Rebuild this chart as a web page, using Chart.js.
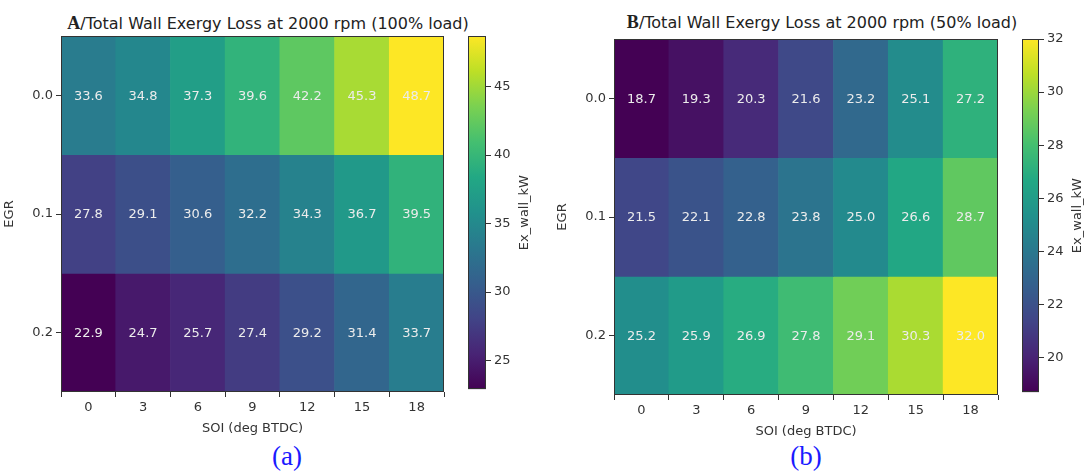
<!DOCTYPE html>
<html>
<head>
<meta charset="utf-8">
<script src="https://cdn.jsdelivr.net/npm/chart.js@4.4.1/dist/chart.umd.min.js"></script>
<style>
  body { margin: 0; background: #fff; width: 1087px; height: 472px; position: relative; overflow: hidden; }
  .box { position: absolute; }
  .title { position: absolute; text-align: center; font: 16px "DejaVu Sans", sans-serif; color: #222; white-space: nowrap; }
  .title b { font: bold 18px "Liberation Serif", serif; }
  .cap { position: absolute; text-align: center; font: 27px "Liberation Serif", serif; color: #1a1aff; }
</style>
</head>
<body>
<div class="title" style="left:18px;top:13px;width:500px;"><b>A</b>/Total Wall Exergy Loss at 2000 rpm (100% load)</div>
<div class="title" style="left:572px;top:12px;width:500px;"><b>B</b>/Total Wall Exergy Loss at 2000 rpm (50% load)</div>
<div class="box" style="left:0;top:0;width:454px;height:436px;"><canvas id="heatA"></canvas></div>
<div class="box" style="left:455px;top:0;width:111px;height:400px;"><canvas id="barA"></canvas></div>
<div class="box" style="left:553px;top:0;width:455px;height:439px;"><canvas id="heatB"></canvas></div>
<div class="box" style="left:1009px;top:0;width:110px;height:403px;"><canvas id="barB"></canvas></div>
<div class="cap" style="left:247px;top:441px;width:80px;">(a)</div>
<div class="cap" style="left:766px;top:441px;width:80px;">(b)</div>
<script>
// ---- data ----
const soi = ["0", "3", "6", "9", "12", "15", "18"];
const egr = ["0.0", "0.1", "0.2"];

// 100% load, rows = EGR 0.0 / 0.1 / 0.2
const fullLoad = [
  [33.6, 34.8, 37.3, 39.6, 42.2, 45.3, 48.7],
  [27.8, 29.1, 30.6, 32.2, 34.3, 36.7, 39.5],
  [22.9, 24.7, 25.7, 27.4, 29.2, 31.4, 33.7]
];
// 50% load
const halfLoad = [
  [18.7, 19.3, 20.3, 21.6, 23.2, 25.1, 27.2],
  [21.5, 22.1, 22.8, 23.8, 25.0, 26.6, 28.7],
  [25.2, 25.9, 26.9, 27.8, 29.1, 30.3, 32.0]
];
const ticksA = [25, 30, 35, 40, 45];
const ticksB = [20, 22, 24, 26, 28, 30, 32];

// ---- viridis ----
const VIRIDIS = ["#440154", "#482475", "#414487", "#355f8d", "#2a788e", "#21918c",
                 "#22a884", "#44bf70", "#7ad151", "#bddf26", "#fde725"];
function hex2rgb(h) {
  return [1, 3, 5].map(i => parseInt(h.slice(i, i + 2), 16));
}
function viridis(t) {
  t = Math.max(0, Math.min(1, t));
  const p = t * (VIRIDIS.length - 1);
  const i = Math.min(Math.floor(p), VIRIDIS.length - 2);
  const f = p - i;
  const a = hex2rgb(VIRIDIS[i]), b = hex2rgb(VIRIDIS[i + 1]);
  const c = a.map((v, k) => Math.round(v + (b[k] - v) * f));
  return `rgb(${c[0]},${c[1]},${c[2]})`;
}

const FONT = "'DejaVu Sans', sans-serif";
const AXIS_COL = "#333";

// frame around plot area
const frame = {
  id: "frame",
  afterDraw(chart) {
    const { ctx, chartArea: a } = chart;
    ctx.save();
    ctx.strokeStyle = AXIS_COL;
    ctx.lineWidth = 1;
    ctx.strokeRect(Math.round(a.left) + 0.5, Math.round(a.top) + 0.5,
                   Math.round(a.right - a.left) - 1, Math.round(a.bottom - a.top) - 1);
    ctx.restore();
  }
};

// value text in every cell
const cellLabels = {
  id: "cellLabels",
  afterDatasetsDraw(chart) {
    const ctx = chart.ctx;
    ctx.save();
    ctx.fillStyle = "#ececec";
    ctx.font = "13px " + FONT;
    ctx.textAlign = "center";
    ctx.textBaseline = "middle";
    chart.data.datasets.forEach((ds, i) => {
      chart.getDatasetMeta(i).data.forEach((bar, j) => {
        const c = bar.getCenterPoint();
        ctx.fillText(ds.values[j].toFixed(1), c.x, c.y + 1);
      });
    });
    ctx.restore();
  }
};

function heatmap(id, rows, padTop, padRight) {
  const all = rows.flat();
  const vmin = Math.min(...all), vmax = Math.max(...all);
  new Chart(document.getElementById(id), {
    type: "bar",
    data: {
      labels: soi,
      datasets: rows.map((row, i) => ({
        data: row.map(() => [i - 0.5, i + 0.5]),
        values: row,
        backgroundColor: row.map(v => viridis((v - vmin) / (vmax - vmin))),
        borderWidth: 0,
        barPercentage: 1,
        categoryPercentage: 1,
        grouped: false
      }))
    },
    options: {
      responsive: true,
      maintainAspectRatio: false,
      animation: false,
      layout: { padding: { top: padTop, right: padRight, left: 0, bottom: 0 } },
      plugins: { legend: { display: false }, tooltip: { enabled: false } },
      scales: {
        x: {
          offset: true,
          grid: { display: true, drawOnChartArea: false, tickLength: 5, color: AXIS_COL },
          border: { display: false },
          ticks: { color: "#333", font: { family: FONT, size: 13 }, padding: 3, maxRotation: 0 },
          title: { display: true, text: "SOI (deg BTDC)", color: "#333",
                   font: { family: FONT, size: 13 }, padding: { top: 1, bottom: 0 } },
          afterFit(s) { s.height = 44; }
        },
        y: {
          min: -0.5, max: 2.5, reverse: true,
          afterBuildTicks(s) { s.ticks = egr.map((_, i) => ({ value: i })); },
          grid: { display: true, drawOnChartArea: false, tickLength: 5, color: AXIS_COL },
          border: { display: false },
          ticks: { color: "#333", font: { family: FONT, size: 13 }, padding: 3,
                   callback: v => egr[v] },
          title: { display: true, text: "EGR", color: "#333",
                   font: { family: FONT, size: 13 }, padding: { top: 2, bottom: 0 } },
          afterFit(s) { s.width = 61; }
        }
      }
    },
    plugins: [cellLabels, frame]
  });
}

function colorbar(id, rows, ticks, padTop, padBottom) {
  const all = rows.flat();
  const vmin = Math.min(...all), vmax = Math.max(...all);
  const label = {
    id: "cbLabel",
    afterDraw(chart) {
      const { ctx, chartArea: a } = chart;
      ctx.save();
      ctx.translate(a.right + 39, (a.top + a.bottom) / 2);
      ctx.rotate(-Math.PI / 2);
      ctx.fillStyle = "#333";
      ctx.font = "13px " + FONT;
      ctx.textAlign = "center";
      ctx.textBaseline = "middle";
      ctx.fillText("Ex_wall_kW", 0, 0);
      ctx.restore();
    }
  };
  new Chart(document.getElementById(id), {
    type: "bar",
    data: {
      labels: [""],
      datasets: [{
        data: [[vmin, vmax]],
        borderWidth: 0,
        barPercentage: 1,
        categoryPercentage: 1,
        backgroundColor(c) {
          const a = c.chart.chartArea;
          if (!a) return "#888";
          const g = c.chart.ctx.createLinearGradient(0, a.bottom, 0, a.top);
          VIRIDIS.forEach((col, k) => g.addColorStop(k / (VIRIDIS.length - 1), col));
          return g;
        }
      }]
    },
    options: {
      responsive: true,
      maintainAspectRatio: false,
      animation: false,
      layout: { padding: { top: padTop, bottom: padBottom, left: 13, right: 0 } },
      plugins: { legend: { display: false }, tooltip: { enabled: false } },
      scales: {
        x: { display: false },
        y: {
          position: "right",
          min: vmin, max: vmax,
          afterBuildTicks(s) { s.ticks = ticks.map(v => ({ value: v })); },
          grid: { display: true, drawOnChartArea: false, tickLength: 5, color: AXIS_COL },
          border: { display: false },
          ticks: { color: "#333", font: { family: FONT, size: 13 }, padding: 3 },
          afterFit(s) { s.width = 80; }
        }
      }
    },
    plugins: [frame, label]
  });
}

heatmap("heatA", fullLoad, 36, 10);
colorbar("barA", fullLoad, ticksA, 36, 8);
heatmap("heatB", halfLoad, 39, 10);
colorbar("barB", halfLoad, ticksB, 39, 8);
</script>
</body>
</html>
